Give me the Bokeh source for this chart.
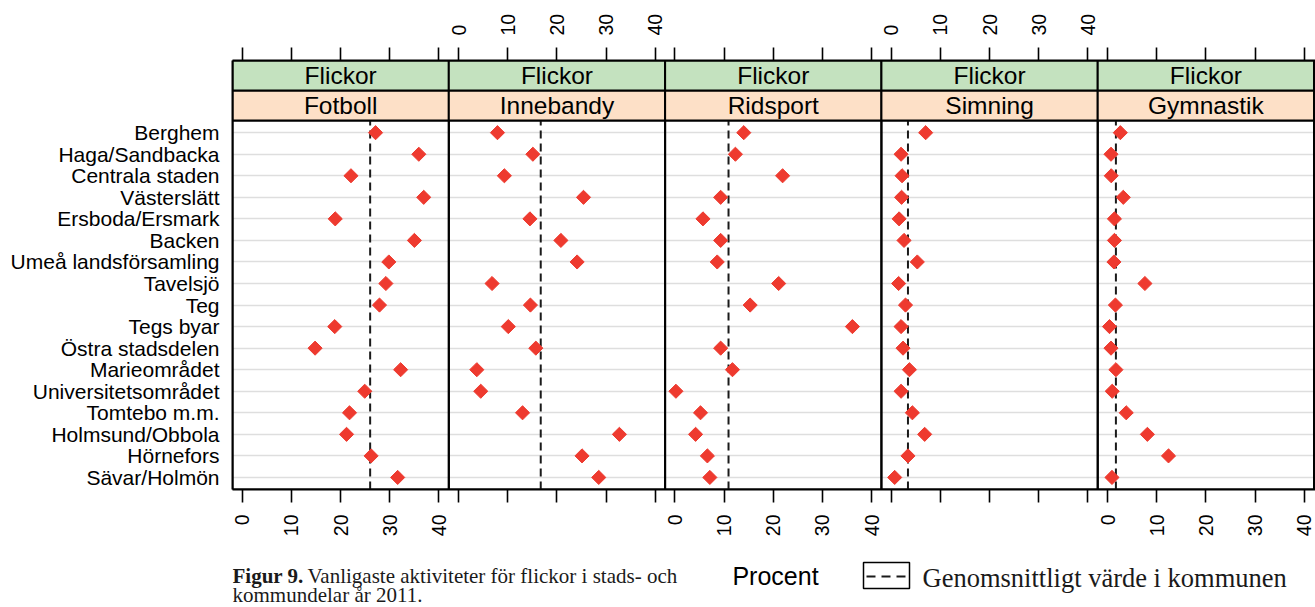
import math
from bokeh.plotting import figure
from bokeh.layouts import column
from bokeh.models import Range1d, FixedTicker, LinearAxis
from bokeh.core.properties import value
from bokeh.embed import file_html
from bokeh.resources import INLINE

# ---------------- data ----------------
regions = ["Berghem", "Haga/Sandbacka", "Centrala staden", "Västerslätt",
           "Ersboda/Ersmark", "Backen", "Umeå landsförsamling", "Tavelsjö",
           "Teg", "Tegs byar", "Östra stadsdelen", "Marieområdet",
           "Universitetsområdet", "Tomtebo m.m.", "Holmsund/Obbola",
           "Hörnefors", "Sävar/Holmön"]
group = "Flickor"
sports = ["Fotboll", "Innebandy", "Ridsport", "Simning", "Gymnastik"]
fotboll = [27.1, 35.9, 22.1, 36.9, 18.9, 35.0, 29.8, 29.2, 27.9, 18.8, 14.8,
           32.2, 24.9, 21.8, 21.2, 26.2, 31.6]
innebandy = [7.9, 15.1, 9.3, 25.4, 14.5, 20.8, 24.1, 6.8, 14.6, 10.1, 15.7,
             3.7, 4.5, 13.0, 32.7, 25.1, 28.5]
ridsport = [14.0, 12.3, 21.9, 9.3, 5.7, 9.3, 8.6, 21.1, 15.3, 36.1, 9.3,
            11.7, 0.2, 5.2, 4.2, 6.6, 7.1]
simning = [7.0, 2.0, 2.2, 2.1, 1.6, 2.6, 5.3, 1.5, 2.9, 2.0, 2.4, 3.7, 2.0,
           4.3, 6.8, 3.4, 0.7]
gymnastik = [2.6, 0.7, 0.75, 3.2, 1.4, 1.4, 1.3, 7.6, 1.6, 0.4, 0.7, 1.7,
             0.95, 3.8, 8.1, 12.4, 0.9]
means = [26.0, 16.7, 10.9, 3.4, 1.7]
tick_values = [0, 10, 20, 30, 40]
x_label = "Procent"
legend_label = "Genomsnittligt värde i kommunen"
caption_bold = "Figur 9."
caption_line1 = "Vanligaste aktiviteter för flickor i stads- och"
caption_line2 = "kommundelar år 2011."

series = [fotboll, innebandy, ridsport, simning, gymnastik]

# ---------------- layout constants ----------------
PANEL = 44          # x-span of one panel (data units incl. padding)
LO = -2
X_HI = PANEL * 5 - 1.7
n = len(regions)
rows = list(range(n, 0, -1))
Y_LO, Y_HI = 0.44, n + 0.56
STRIP = 1.395
Y_TOP = Y_HI + 2 * STRIP

W = 1315
H1 = 555            # main lattice figure
H2 = 607 - H1       # caption / legend strip
BL, BT, BB = 232, 60, H1 - 489

RED = "#ee3a2f"
GREEN = "#c4e2bf"
PEACH = "#fde0c7"
SANS = "Liberation Sans"
SERIF = "Liberation Serif"

p = figure(width=W, height=H1,
           x_range=Range1d(LO, X_HI), y_range=Range1d(Y_LO, Y_TOP),
           output_backend="svg", toolbar_location=None,
           x_axis_location=None, y_axis_location=None,
           min_border_left=BL, min_border_right=0,
           min_border_top=BT, min_border_bottom=BB)
p.outline_line_color = None
p.xgrid.visible = False
p.ygrid.ticker = FixedTicker(ticks=rows)
p.ygrid.grid_line_color = "#dedede"
p.ygrid.grid_line_width = 1.6

# left axis with region names
yax = LinearAxis(ticker=FixedTicker(ticks=rows),
                 major_label_overrides={r: nm for r, nm in zip(rows, regions)})
yax.axis_line_color = "black"
yax.axis_line_width = 2
yax.major_tick_out = 0
yax.major_tick_in = 0
yax.minor_tick_out = 0
yax.minor_tick_in = 0
yax.major_label_standoff = 13
yax.major_label_text_font = SANS
yax.major_label_text_font_size = "21px"
yax.major_label_text_color = "black"
p.add_layout(yax, "left")


def panel_ticks(k):
    return [PANEL * k + t for t in tick_values]


def make_xaxis(labelled, unlabelled):
    major = [t for k in labelled for t in panel_ticks(k)]
    minor = [t for k in unlabelled for t in panel_ticks(k)]
    overrides = {PANEL * k + t: str(t) for k in labelled for t in tick_values}
    ax = LinearAxis(ticker=FixedTicker(ticks=major, minor_ticks=minor),
                    major_label_overrides=overrides)
    ax.axis_line_color = "black"
    ax.axis_line_width = 2
    ax.major_tick_out = 13
    ax.major_tick_in = 0
    ax.minor_tick_out = 13
    ax.minor_tick_in = 0
    ax.major_tick_line_width = 1.6
    ax.minor_tick_line_width = 1.6
    ax.major_tick_line_color = "black"
    ax.minor_tick_line_color = "black"
    ax.major_label_orientation = math.pi / 2
    ax.major_label_standoff = 12
    ax.major_label_text_font = SANS
    ax.major_label_text_font_size = "19.5px"
    ax.major_label_text_color = "black"
    return ax


p.add_layout(make_xaxis([0, 2, 4], [1, 3]), "below")
p.add_layout(make_xaxis([1, 3], [0, 2, 4]), "above")

lefts = [PANEL * k + LO for k in range(5)]
rights = [PANEL * k + LO + PANEL for k in range(5)]
centers = [PANEL * k + LO + PANEL / 2 for k in range(5)]

# panel boxes
p.quad(left=lefts, right=rights, bottom=Y_LO, top=Y_HI,
       fill_color=None, line_color="black", line_width=2)

# mean lines
mx = [m + PANEL * k for k, m in enumerate(means)]
p.segment(x0=mx, y0=Y_LO, x1=mx, y1=Y_HI, line_color="#1a1a1a",
          line_width=2, line_dash="8 5")

# points
for k, s in enumerate(series):
    p.scatter(x=[v + PANEL * k for v in s], y=rows, marker="square",
              angle=math.pi / 4, size=10, fill_color=RED, line_color=RED)

# strips
p.quad(left=lefts, right=rights, bottom=Y_HI, top=Y_HI + STRIP,
       fill_color=PEACH, line_color="black", line_width=2)
p.quad(left=lefts, right=rights, bottom=Y_HI + STRIP, top=Y_TOP,
       fill_color=GREEN, line_color="black", line_width=2)
p.text(x=centers, y=[Y_HI + STRIP / 2] * 5, text=sports,
       text_font=value(SANS), text_font_size="24.5px", text_align="center",
       text_baseline="middle", text_color="black")
p.text(x=centers, y=[Y_HI + 1.5 * STRIP] * 5, text=[group] * 5,
       text_font=value(SANS), text_font_size="24.5px", text_align="center",
       text_baseline="middle", text_color="black")

# ---------------- caption / legend strip (page-pixel coordinates) ----------------
# the column layout aligns this frame with the main frame (starting at x = BL)
q = figure(width=W, height=H2, x_range=Range1d(BL, W), y_range=Range1d(607, H1),
           output_backend="svg", toolbar_location=None,
           x_axis_location=None, y_axis_location=None, min_border=0)
q.outline_line_color = None
q.grid.visible = False

CAP = "#1a1a1a"
q.text(x=[232], y=[575], text=[caption_bold], text_font=value(SERIF),
       text_font_size="21px", text_font_style="bold", text_align="left",
       text_baseline="middle", text_color=CAP)
q.text(x=[307, 232], y=[575, 594], text=[caption_line1, caption_line2],
       text_font=value(SERIF), text_font_size="21px", text_align="left",
       text_baseline="middle", text_color=CAP)
q.text(x=[775], y=[575], text=[x_label], text_font=value(SANS),
       text_font_size="25px", text_align="center", text_baseline="middle",
       text_color="black")
q.text(x=[922], y=[577], text=[legend_label], text_font=value(SERIF),
       text_font_size="26.5px", text_align="left", text_baseline="middle",
       text_color=CAP)
q.quad(left=[863], right=[909], top=[562], bottom=[588], fill_color=None,
       line_color="black", line_width=1.5)
q.segment(x0=[866], x1=[907], y0=[576], y1=[576], line_color=CAP,
          line_width=2, line_dash="9 6")

layout = column(p, q, spacing=0)
open("out.html", "w").write(file_html(layout, INLINE))
